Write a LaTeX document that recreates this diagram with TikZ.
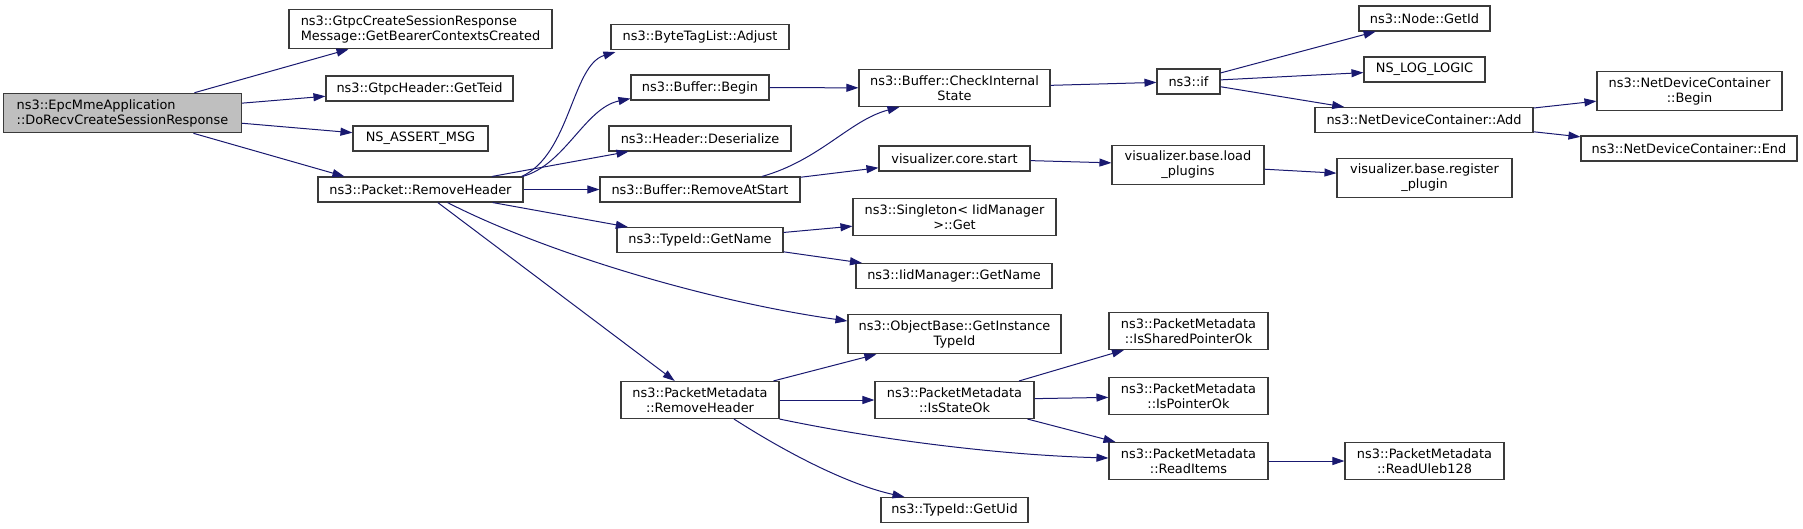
\documentclass[tikz,border=0pt]{standalone}
\usepackage{fontspec}
\setmainfont{DejaVu Sans}
\usepackage{tikz}
\usepackage{xcolor}
\usetikzlibrary{arrows.meta}
\definecolor{edgeblue}{HTML}{191970}
\definecolor{boxline}{HTML}{3A3A3A}
\definecolor{rootfill}{HTML}{BFBFBF}
\tikzset{
  fnbox/.style={draw=boxline, line width=1.1pt, fill=white, align=center,
    inner xsep=2pt, inner ysep=6pt, minimum height=25pt,
    font=\fontsize{12.9}{15}\selectfont},
  callarrow/.style={draw=edgeblue, line width=1pt,
    -{Triangle[length=12pt,width=8pt]}}
}
\newcommand{\fnode}[6][]{
\node[fnbox, minimum width=#5pt, #1] (#2) at (#3,#4) {#6};
}

\begin{document}
\begin{tikzpicture}[x=1pt,y=-1pt]
    \useasboundingbox (0,0) rectangle (1803,528);
    \fnode[align=left,fill=rootfill]{root}{122.5}{113}{238}{ns3::EpcMmeApplication\\::DoRecvCreateSessionResponse}
    \fnode[align=left]{gtpc}{420.5}{29}{263}{ns3::GtpcCreateSessionResponse\\Message::GetBearerContextsCreated}
    \fnode{teid}{419.5}{88.5}{187}{ns3::GtpcHeader::GetTeid}
    \fnode{assert}{420.5}{138.5}{135}{NS\_ASSERT\_MSG}
    \fnode{rh}{420.5}{189.5}{205}{ns3::Packet::RemoveHeader}

    \fnode{adjust}{700}{37}{178}{ns3::ByteTagList::Adjust}
    \fnode{begin}{700}{87.5}{138}{ns3::Buffer::Begin}
    \fnode{deser}{700}{138.5}{182}{ns3::Header::Deserialize}
    \fnode{ras}{700}{189.5}{200}{ns3::Buffer::RemoveAtStart}
    \fnode{getname}{700}{240}{166}{ns3::TypeId::GetName}
    \fnode{pmrh}{700}{400}{158}{ns3::PacketMetadata\\::RemoveHeader}

    \fnode{cis}{954.5}{88}{191}{ns3::Buffer::CheckInternal\\State}
    \fnode{corestart}{954.5}{158.5}{151}{visualizer.core.start}
    \fnode{singleton}{954.5}{217}{203}{ns3::Singleton< IidManager\\>::Get}
    \fnode{iidname}{954}{276}{196}{ns3::IidManager::GetName}
    \fnode{objbase}{954.5}{334}{213}{ns3::ObjectBase::GetInstance\\TypeId}
    \fnode{stateok}{954.5}{400}{159}{ns3::PacketMetadata\\::IsStateOk}
    \fnode{getuid}{954.5}{510}{147}{ns3::TypeId::GetUid}

    \fnode{nsif}{1188.5}{81.5}{63}{ns3::if}
    \fnode{loadpl}{1188}{165}{152}{visualizer.base.load\\\_plugins}
    \fnode{sharedok}{1188.5}{331}{159}{ns3::PacketMetadata\\::IsSharedPointerOk}
    \fnode{pointerok}{1188.5}{396}{159}{ns3::PacketMetadata\\::IsPointerOk}
    \fnode{readitems}{1188.5}{461}{159}{ns3::PacketMetadata\\::ReadItems}

    \fnode{getid}{1424.5}{18.5}{131}{ns3::Node::GetId}
    \fnode{nslog}{1424.5}{69.5}{121}{NS\_LOG\_LOGIC}
    \fnode{add}{1424}{120}{218}{ns3::NetDeviceContainer::Add}
    \fnode{register}{1424.5}{178}{175}{visualizer.base.register\\\_plugin}
    \fnode{uleb}{1424.5}{461}{159}{ns3::PacketMetadata\\::ReadUleb128}

    \fnode{ndcbegin}{1689.5}{91}{185}{ns3::NetDeviceContainer\\::Begin}
    \fnode{ndcend}{1689}{148.5}{216}{ns3::NetDeviceContainer::End}

    \foreach \a/\b in {root/gtpc, root/teid, root/assert, rh/deser, rh/ras, rh/getname,
        rh/pmrh, begin/cis, ras/corestart, cis/nsif, nsif/getid, nsif/nslog, nsif/add,
        add/ndcbegin, add/ndcend, corestart/loadpl, loadpl/register, getname/singleton,
        getname/iidname, pmrh/objbase, pmrh/stateok, stateok/sharedok, stateok/pointerok,
        stateok/readitems, readitems/uleb}
        \draw[callarrow] (\a) -- (\b);

    \draw[callarrow] (root) -- ([xshift=27pt]rh.north west);
    \draw[callarrow] ([xshift=-2pt]rh.north east) .. controls (570,155) and (572,65) .. ([xshift=5pt,yshift=-2pt]adjust.south west);
    \draw[callarrow] ([xshift=-1pt]rh.north east) .. controls (565,165) and (585,108) .. ([yshift=2pt]begin.south west);
    \draw[callarrow] ([xshift=62pt]ras.north) .. controls (820,160) and (850,120) .. ([xshift=-55pt]cis.south);
    \draw[callarrow] ([xshift=27pt]rh.south) .. controls (540,250) and (700,300) .. ([yshift=13pt]objbase.west);
    \draw[callarrow] (pmrh.south east) .. controls (880,440) and (1000,455) .. ([yshift=3pt]readitems.west);
    \draw[callarrow] ([xshift=34pt]pmrh.south) .. controls (790,455) and (850,485) .. ([xshift=-50pt]getuid.north);
\end{tikzpicture}
\end{document}
